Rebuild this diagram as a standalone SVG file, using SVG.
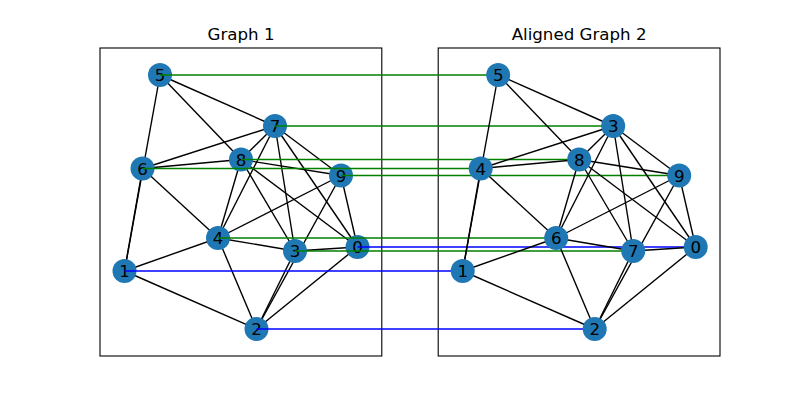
<svg xmlns="http://www.w3.org/2000/svg" width="800" height="400" viewBox="0 0 800 400">
<style>
.frame{fill:none;stroke:#000;stroke-width:1.1}
.title{font-family:"DejaVu Sans",sans-serif;font-size:16.67px;fill:#000;text-anchor:middle}
.edge{stroke:#000;stroke-width:1.39;fill:none}
.node circle{fill:#1f78b4}
.node text{font-family:"DejaVu Sans",sans-serif;font-size:16.67px;fill:#000;text-anchor:middle}
.green{stroke:#008000;stroke-width:1.39}
.blue{stroke:#0000ff;stroke-width:1.39}
</style>
<rect width="800" height="400" fill="#fff"/>
<rect class="frame" x="100" y="48" width="281.8" height="308"/>
<rect class="frame" x="438.2" y="48" width="281.8" height="308"/>
<text class="title" x="241" y="39.7">Graph 1</text>
<text class="title" x="579.1" y="39.7">Aligned Graph 2</text>

<g id="edges1">
<line class="edge" x1="160" y1="75" x2="275" y2="126"/>
<line class="edge" x1="160" y1="75" x2="241" y2="159.5"/>
<line class="edge" x1="160" y1="75" x2="124.5" y2="271"/>
<line class="edge" x1="275" y1="126" x2="142.5" y2="168.5"/>
<line class="edge" x1="275" y1="126" x2="241" y2="159.5"/>
<line class="edge" x1="275" y1="126" x2="341" y2="175.5"/>
<line class="edge" x1="275" y1="126" x2="218" y2="238"/>
<line class="edge" x1="275" y1="126" x2="295" y2="251"/>
<line class="edge" x1="275" y1="126" x2="357.5" y2="247"/>
<line class="edge" x1="241" y1="159.5" x2="142.5" y2="168.5"/>
<line class="edge" x1="241" y1="159.5" x2="341" y2="175.5"/>
<line class="edge" x1="241" y1="159.5" x2="218" y2="238"/>
<line class="edge" x1="241" y1="159.5" x2="295" y2="251"/>
<line class="edge" x1="241" y1="159.5" x2="357.5" y2="247"/>
<line class="edge" x1="142.5" y1="168.5" x2="124.5" y2="271"/>
<line class="edge" x1="142.5" y1="168.5" x2="218" y2="238"/>
<line class="edge" x1="341" y1="175.5" x2="218" y2="238"/>
<line class="edge" x1="341" y1="175.5" x2="357.5" y2="247"/>
<line class="edge" x1="341" y1="175.5" x2="256.5" y2="329"/>
<line class="edge" x1="218" y1="238" x2="124.5" y2="271"/>
<line class="edge" x1="218" y1="238" x2="295" y2="251"/>
<line class="edge" x1="218" y1="238" x2="256.5" y2="329"/>
<line class="edge" x1="295" y1="251" x2="357.5" y2="247"/>
<line class="edge" x1="295" y1="251" x2="256.5" y2="329"/>
<line class="edge" x1="357.5" y1="247" x2="256.5" y2="329"/>
<line class="edge" x1="124.5" y1="271" x2="256.5" y2="329"/>
</g>

<g id="g1-n5" class="node"><circle cx="160" cy="75" r="12"/><text x="160" y="81">5</text></g>
<g id="g1-n7" class="node"><circle cx="275" cy="126" r="12"/><text x="275" y="132">7</text></g>
<g id="g1-n8" class="node"><circle cx="241" cy="159.5" r="12"/><text x="241" y="165.5">8</text></g>
<g id="g1-n6" class="node"><circle cx="142.5" cy="168.5" r="12"/><text x="142.5" y="174.5">6</text></g>
<g id="g1-n9" class="node"><circle cx="341" cy="175.5" r="12"/><text x="341" y="181.5">9</text></g>
<g id="g1-n4" class="node"><circle cx="218" cy="238" r="12"/><text x="218" y="244">4</text></g>
<g id="g1-n3" class="node"><circle cx="295" cy="251" r="12"/><text x="295" y="257">3</text></g>
<g id="g1-n0" class="node"><circle cx="357.5" cy="247" r="12"/><text x="357.5" y="253">0</text></g>
<g id="g1-n1" class="node"><circle cx="124.5" cy="271" r="12"/><text x="124.5" y="277">1</text></g>
<g id="g1-n2" class="node"><circle cx="256.5" cy="329" r="12"/><text x="256.5" y="335">2</text></g>

<g id="alignment">
<line class="green" x1="160" y1="75" x2="498.2" y2="75"/>
<line class="green" x1="275" y1="126" x2="613.2" y2="126"/>
<line class="green" x1="241" y1="159.5" x2="579.2" y2="159.5"/>
<line class="green" x1="142.5" y1="168.5" x2="480.7" y2="168.5"/>
<line class="green" x1="341" y1="175.5" x2="679.2" y2="175.5"/>
<line class="green" x1="218" y1="238" x2="556.2" y2="238"/>
<line class="blue" x1="357.5" y1="247" x2="695.7" y2="247"/>
<line class="green" x1="295" y1="251" x2="633.2" y2="251"/>
<line class="blue" x1="124.5" y1="271" x2="462.7" y2="271"/>
<line class="blue" x1="256.5" y1="329" x2="594.7" y2="329"/>
</g>

<g id="edges2">
<line class="edge" x1="498.2" y1="75" x2="613.2" y2="126"/>
<line class="edge" x1="498.2" y1="75" x2="579.2" y2="159.5"/>
<line class="edge" x1="498.2" y1="75" x2="462.7" y2="271"/>
<line class="edge" x1="613.2" y1="126" x2="480.7" y2="168.5"/>
<line class="edge" x1="613.2" y1="126" x2="579.2" y2="159.5"/>
<line class="edge" x1="613.2" y1="126" x2="679.2" y2="175.5"/>
<line class="edge" x1="613.2" y1="126" x2="556.2" y2="238"/>
<line class="edge" x1="613.2" y1="126" x2="633.2" y2="251"/>
<line class="edge" x1="613.2" y1="126" x2="695.7" y2="247"/>
<line class="edge" x1="579.2" y1="159.5" x2="480.7" y2="168.5"/>
<line class="edge" x1="579.2" y1="159.5" x2="679.2" y2="175.5"/>
<line class="edge" x1="579.2" y1="159.5" x2="556.2" y2="238"/>
<line class="edge" x1="579.2" y1="159.5" x2="633.2" y2="251"/>
<line class="edge" x1="579.2" y1="159.5" x2="695.7" y2="247"/>
<line class="edge" x1="480.7" y1="168.5" x2="462.7" y2="271"/>
<line class="edge" x1="480.7" y1="168.5" x2="556.2" y2="238"/>
<line class="edge" x1="679.2" y1="175.5" x2="556.2" y2="238"/>
<line class="edge" x1="679.2" y1="175.5" x2="695.7" y2="247"/>
<line class="edge" x1="679.2" y1="175.5" x2="594.7" y2="329"/>
<line class="edge" x1="556.2" y1="238" x2="462.7" y2="271"/>
<line class="edge" x1="556.2" y1="238" x2="633.2" y2="251"/>
<line class="edge" x1="556.2" y1="238" x2="594.7" y2="329"/>
<line class="edge" x1="633.2" y1="251" x2="695.7" y2="247"/>
<line class="edge" x1="633.2" y1="251" x2="594.7" y2="329"/>
<line class="edge" x1="695.7" y1="247" x2="594.7" y2="329"/>
<line class="edge" x1="462.7" y1="271" x2="594.7" y2="329"/>
</g>

<g id="g2-n5" class="node"><circle cx="498.2" cy="75" r="12"/><text x="498.2" y="81">5</text></g>
<g id="g2-n3" class="node"><circle cx="613.2" cy="126" r="12"/><text x="613.2" y="132">3</text></g>
<g id="g2-n8" class="node"><circle cx="579.2" cy="159.5" r="12"/><text x="579.2" y="165.5">8</text></g>
<g id="g2-n4" class="node"><circle cx="480.7" cy="168.5" r="12"/><text x="480.7" y="174.5">4</text></g>
<g id="g2-n9" class="node"><circle cx="679.2" cy="175.5" r="12"/><text x="679.2" y="181.5">9</text></g>
<g id="g2-n6" class="node"><circle cx="556.2" cy="238" r="12"/><text x="556.2" y="244">6</text></g>
<g id="g2-n7" class="node"><circle cx="633.2" cy="251" r="12"/><text x="633.2" y="257">7</text></g>
<g id="g2-n0" class="node"><circle cx="695.7" cy="247" r="12"/><text x="695.7" y="253">0</text></g>
<g id="g2-n1" class="node"><circle cx="462.7" cy="271" r="12"/><text x="462.7" y="277">1</text></g>
<g id="g2-n2" class="node"><circle cx="594.7" cy="329" r="12"/><text x="594.7" y="335">2</text></g>
</svg>
